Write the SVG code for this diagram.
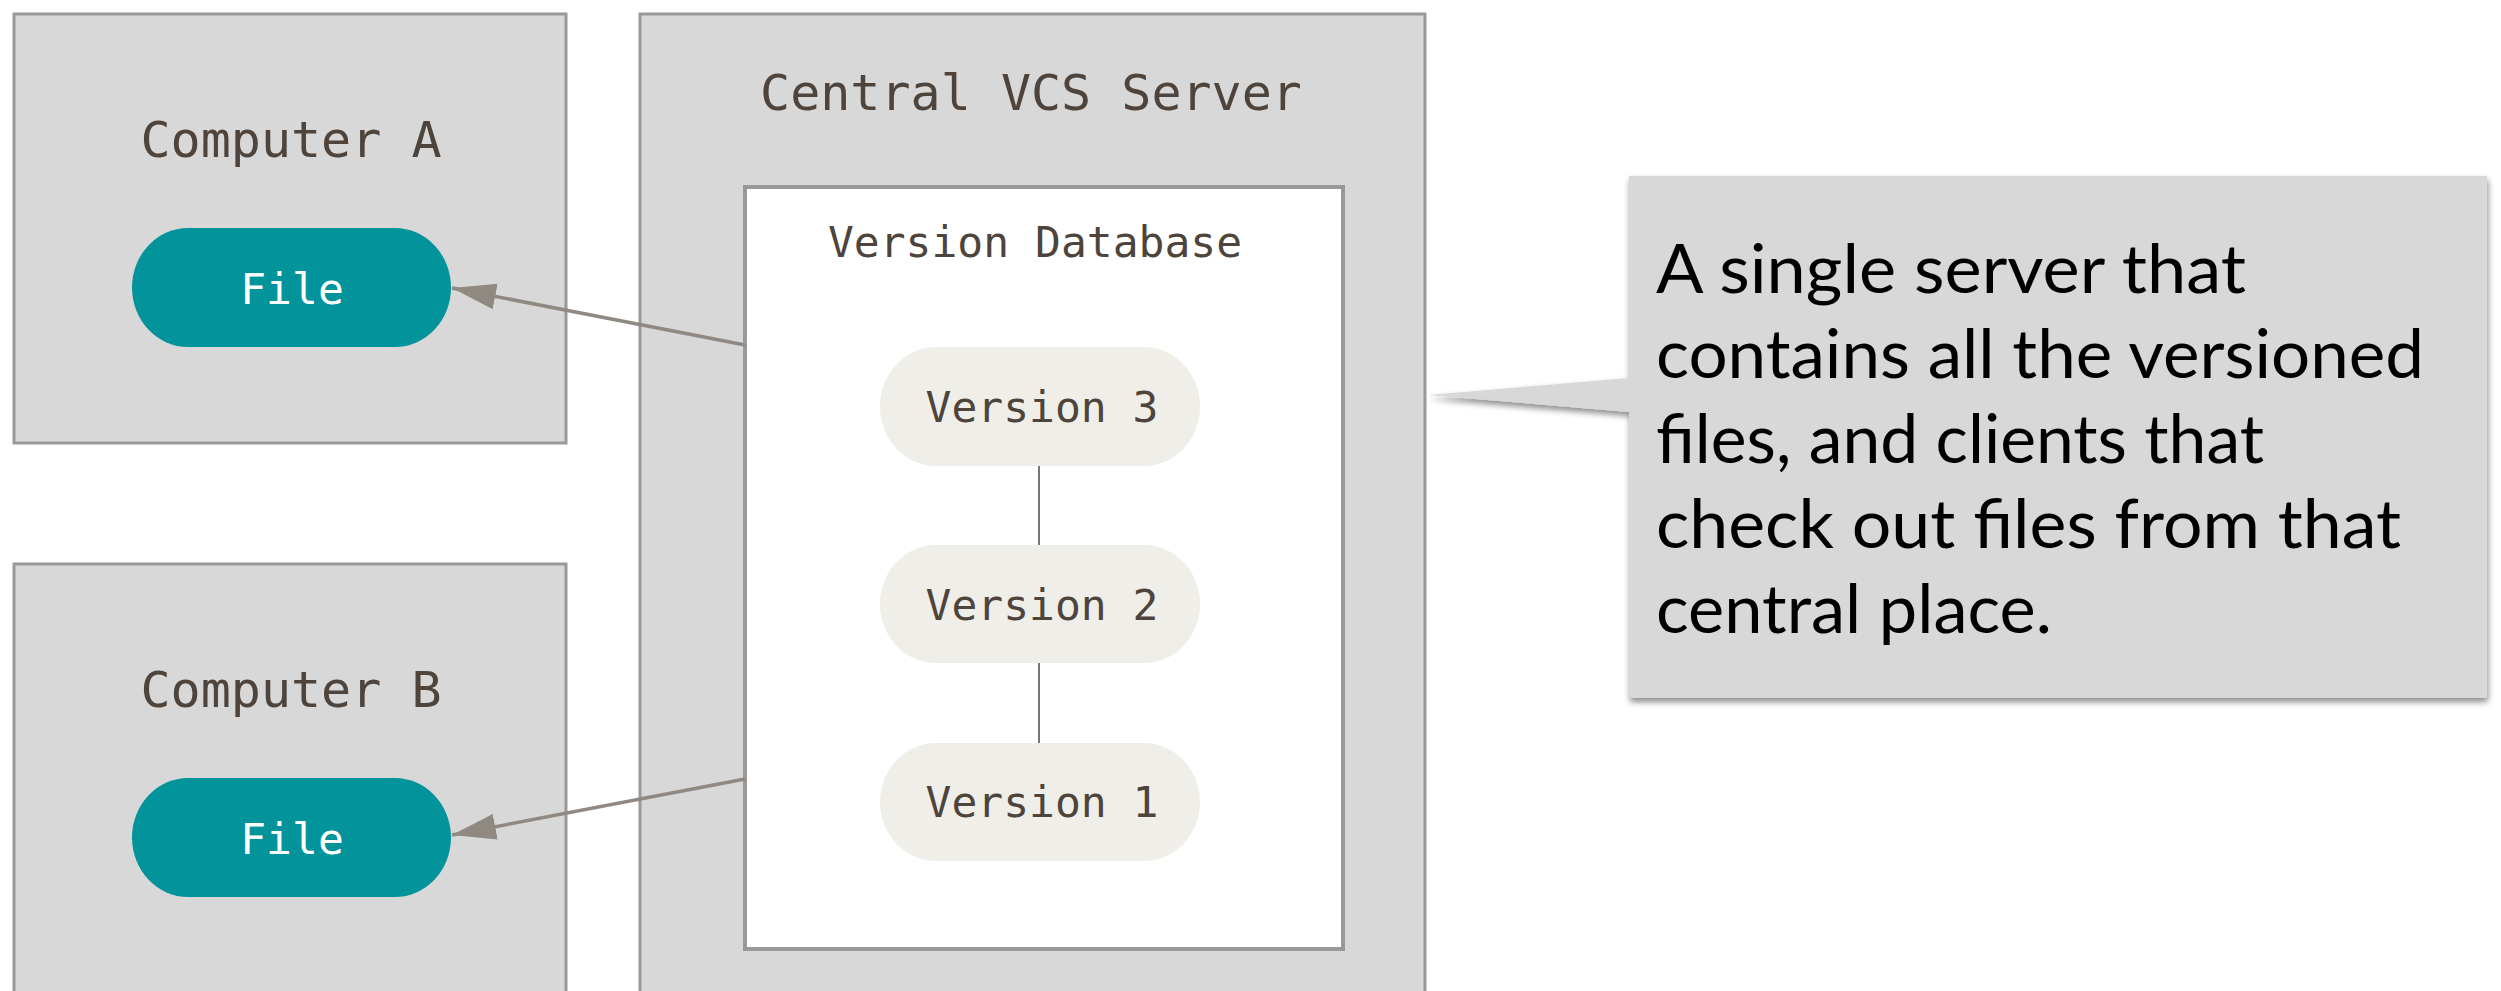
<svg xmlns="http://www.w3.org/2000/svg" width="2501" height="991" viewBox="0 0 2501 991">
  <style>
    .panel { fill: #d8d8d8; stroke: #999999; stroke-width: 3; }
    .db { fill: #ffffff; stroke: #999999; stroke-width: 4; }
    .title { font-family: "DejaVu Sans Mono", "Liberation Mono", monospace; font-size: 50px; fill: #4e443c; text-anchor: middle; }
    .label { font-family: "DejaVu Sans Mono", "Liberation Mono", monospace; font-size: 43px; text-anchor: middle; }
    .file { fill: #02939b; }
    .file-text { fill: #ffffff; }
    .ver { fill: #efeee8; }
    .ver-text { fill: #4e443c; }
    .arrow { stroke: #8f8982; stroke-width: 3.5; fill: none; }
    .link { stroke: #777777; stroke-width: 2; }
    .note { font-family: "Lato", "Open Sans", sans-serif; font-size: 68px; fill: #000000; }
  </style>
  <defs>
    <marker id="head" markerUnits="userSpaceOnUse" markerWidth="46" markerHeight="28" refX="44" refY="13" orient="auto">
      <path d="M0,0 L44,13 L0,26 Z" fill="#8f8982"/>
    </marker>
    <filter id="shadow" x="-5%" y="-5%" width="112%" height="115%">
      <feDropShadow dx="1" dy="4" stdDeviation="3" flood-color="#000000" flood-opacity="0.45"/>
    </filter>
  </defs>

  <rect width="2501" height="991" fill="#ffffff"/>

  <!-- client A -->
  <g id="computer-a">
    <rect class="panel" x="14" y="14" width="552" height="429"/>
    <text class="title" x="291" y="157">Computer A</text>
    <rect class="file" x="132" y="228" width="319" height="119" rx="56" ry="59.5"/>
    <text class="label file-text" x="292" y="304">File</text>
  </g>

  <!-- client B -->
  <g id="computer-b">
    <rect class="panel" x="14" y="564" width="552" height="440"/>
    <text class="title" x="291" y="707">Computer B</text>
    <rect class="file" x="132" y="778" width="319" height="119" rx="56" ry="59.5"/>
    <text class="label file-text" x="292" y="854">File</text>
  </g>

  <!-- server -->
  <g id="central-server">
    <rect class="panel" x="640" y="14" width="785" height="990"/>
    <text class="title" x="1031" y="110">Central VCS Server</text>
  </g>

  <g id="version-database">
    <rect class="db" x="745" y="187" width="598" height="762"/>
    <text class="label ver-text" x="1035" y="257">Version Database</text>
  </g>

  <!-- history chain -->
  <g id="connectors">
    <line class="link" x1="1039" y1="466" x2="1039" y2="545"/>
    <line class="link" x1="1039" y1="663" x2="1039" y2="743"/>
    <line class="arrow" x1="745" y1="345" x2="452" y2="288" marker-end="url(#head)"/>
    <line class="arrow" x1="745" y1="779" x2="452" y2="835" marker-end="url(#head)"/>
  </g>

  <g id="version-3">
    <rect class="ver" x="880" y="347" width="320" height="119" rx="56" ry="59.5"/>
    <text class="label ver-text" x="1042" y="422">Version 3</text>
  </g>
  <g id="version-2">
    <rect class="ver" x="880" y="545" width="320" height="118" rx="56" ry="59"/>
    <text class="label ver-text" x="1042" y="620">Version 2</text>
  </g>
  <g id="version-1">
    <rect class="ver" x="880" y="743" width="320" height="118" rx="56" ry="59"/>
    <text class="label ver-text" x="1042" y="817">Version 1</text>
  </g>

  <!-- explanatory callout -->
  <g id="callout">
    <path d="M1629,176 H2487 V698 H1629 V412 L1428,395 L1629,378 Z" fill="#d8d8d8" filter="url(#shadow)"/>
    <text class="note" x="1656" y="293" textLength="590" lengthAdjust="spacingAndGlyphs">A single server that</text>
    <text class="note" x="1656" y="378" textLength="768" lengthAdjust="spacingAndGlyphs">contains all the versioned</text>
    <text class="note" x="1656" y="463" textLength="608" lengthAdjust="spacingAndGlyphs">files, and clients that</text>
    <text class="note" x="1656" y="548" textLength="745" lengthAdjust="spacingAndGlyphs">check out files from that</text>
    <text class="note" x="1656" y="633" textLength="396" lengthAdjust="spacingAndGlyphs">central place.</text>
  </g>
</svg>
